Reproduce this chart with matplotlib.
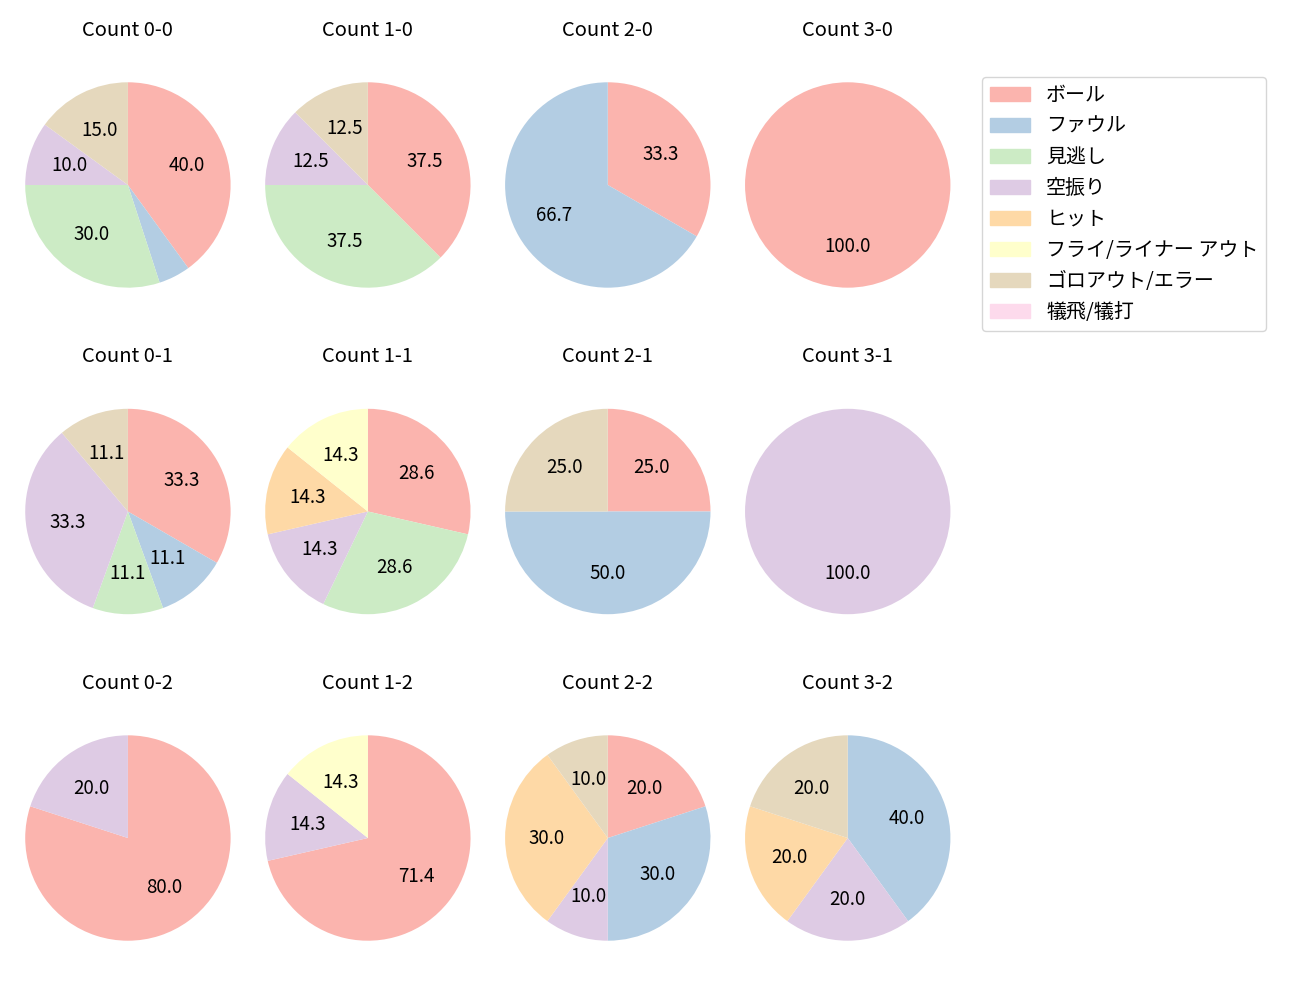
import numpy as np
import matplotlib.pyplot as plt

plt.rcParams['font.family'] = ['Noto Sans CJK JP', 'DejaVu Sans']

# result categories (legend order)
labels = ['ボール', 'ファウル', '見逃し', '空振り', 'ヒット',
          'フライ/ライナー アウト', 'ゴロアウト/エラー', '犠飛/犠打']

# counts per ball-strike count, same order as labels
count_00 = [8, 1, 6, 2, 0, 0, 3, 0]
count_10 = [3, 0, 3, 1, 0, 0, 1, 0]
count_20 = [1, 2, 0, 0, 0, 0, 0, 0]
count_30 = [1, 0, 0, 0, 0, 0, 0, 0]
count_01 = [3, 1, 1, 3, 0, 0, 1, 0]
count_11 = [2, 0, 2, 1, 1, 1, 0, 0]
count_21 = [1, 2, 0, 0, 0, 0, 1, 0]
count_31 = [0, 0, 0, 1, 0, 0, 0, 0]
count_02 = [4, 0, 0, 1, 0, 0, 0, 0]
count_12 = [5, 0, 0, 1, 0, 1, 0, 0]
count_22 = [2, 3, 0, 1, 3, 0, 1, 0]
count_32 = [0, 2, 0, 1, 1, 0, 1, 0]

grid = [
    [('0-0', count_00), ('1-0', count_10), ('2-0', count_20), ('3-0', count_30)],
    [('0-1', count_01), ('1-1', count_11), ('2-1', count_21), ('3-1', count_31)],
    [('0-2', count_02), ('1-2', count_12), ('2-2', count_22), ('3-2', count_32)],
]

colors = plt.cm.Pastel1.colors[:len(labels)]

fig, axes = plt.subplots(3, 4, figsize=(13, 10))
fig.subplots_adjust(left=0.0115, right=0.739, top=0.956, bottom=0.021,
                    wspace=0.062, hspace=0.158)


def show_pct(p):
    return f'{p:.1f}' if p > 5 else ''


for r, row in enumerate(grid):
    for c, (name, vals) in enumerate(row):
        ax = axes[r, c]
        vals = np.array(vals, dtype=float)
        keep = vals > 0
        ax.pie(vals[keep], colors=[col for col, k in zip(colors, keep) if k],
               autopct=show_pct, startangle=90, counterclock=False,
               frame=True, textprops={'fontsize': 13.5})
        ax.set_aspect('equal', adjustable='datalim')
        ax.set_xticks([])
        ax.set_yticks([])
        ax.set_frame_on(False)
        ax.set_title(f'Count {name}', fontsize=14.5)

handles = [plt.Rectangle((0, 0), 1, 1, color=col) for col in colors]
fig.legend(handles, labels, loc='upper left', bbox_to_anchor=(982 / 1300, 1 - 77 / 1000),
           borderaxespad=0, fontsize=14.4, handlelength=2.0)

fig.savefig('out.png', dpi=100)
